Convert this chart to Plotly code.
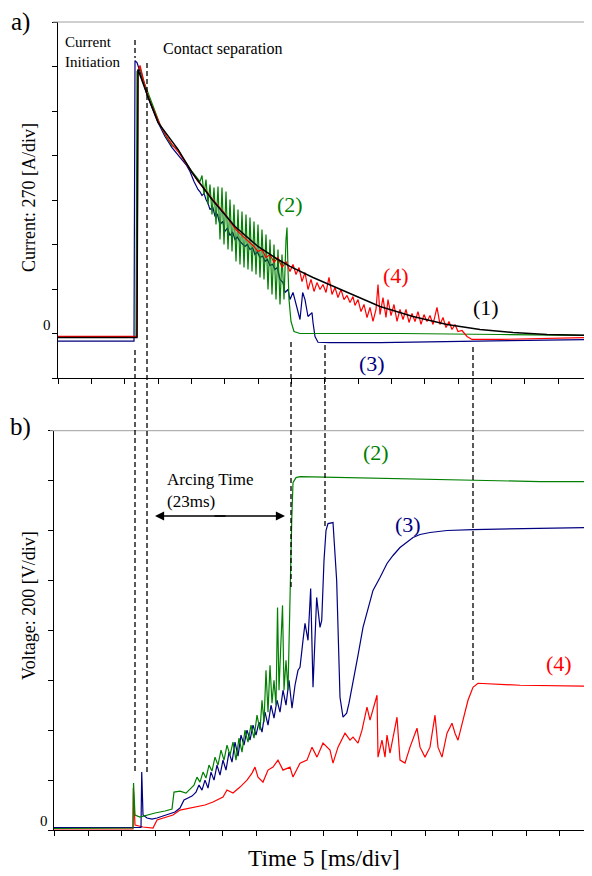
import plotly.graph_objects as go

# ---------------- data (time in ms, current in A, voltage in V) ----------------
time_ticks_ms = list(range(0, 81, 5))
current_ticks_A = list(range(-270, 1891, 270))
voltage_ticks_V = list(range(0, 1601, 200))

current_1 = [(0, -24), (11.85, -24), (12.0, 1602), (13.35, 1451), (15.0, 1281), (18.0, 1117),
             (20.1, 977), (23.1, 813), (26.55, 649), (30.0, 528), (33.0, 449), (34.8, 407),
             (38.25, 340), (43.35, 249), (48.3, 164), (53.25, 103), (58.35, 55), (63.3, 24),
             (68.25, 6), (73.35, -6), (80.1, -12)]

current_2 = [(0, -24), (11.7, -24), (11.85, 1590), (12.3, 1614), (12.75, 1541), (13.2, 1493),
             (13.8, 1420), (14.55, 1341), (15.3, 1268), (16.2, 1195), (17.1, 1141), (18.0, 1116),
             (19.05, 1044), (20.1, 983), (21.0, 934), (21.3, 922), (21.6, 959), (21.9, 843),
             (22.2, 934), (22.5, 783), (22.8, 904), (23.1, 722), (23.4, 886), (23.7, 661),
             (24.0, 892), (24.3, 570), (24.6, 886), (24.9, 540), (25.2, 861), (25.5, 510),
             (25.8, 813), (26.1, 497), (26.4, 783), (26.7, 437), (27.0, 752), (27.3, 419),
             (27.6, 740), (27.9, 400), (28.2, 722), (28.5, 388), (28.8, 704), (29.1, 376),
             (29.4, 679), (29.7, 358), (30.0, 661), (30.3, 340), (30.6, 631), (30.9, 328),
             (31.2, 601), (31.5, 267), (31.8, 570), (32.1, 237), (32.4, 540), (32.7, 206),
             (33.0, 510), (33.3, 176), (33.6, 479), (33.9, 206), (34.2, 570), (34.35, 643),
             (34.5, 388), (34.65, 206), (34.95, 73), (35.4, 12), (36.3, 0), (51.3, 0),
             (66.3, -6), (80.1, -12)]

current_3 = [(0, -46), (11.4, -46), (11.55, 1656), (11.85, 1644), (12.3, 1590), (12.75, 1529),
             (13.35, 1450), (14.1, 1371), (15.0, 1280), (16.05, 1195), (17.1, 1128), (18.3, 1068),
             (19.2, 1025), (19.8, 983), (20.4, 922), (21.0, 874), (21.3, 860), (21.6, 837),
             (21.9, 850), (22.2, 813), (22.5, 790), (22.8, 752), (23.2, 770), (23.55, 710),
             (23.9, 725), (24.3, 661), (24.7, 680), (25.05, 619), (25.4, 640), (25.8, 595),
             (26.2, 615), (26.55, 570), (26.9, 585), (27.3, 558), (27.7, 545), (28.05, 528),
             (28.4, 540), (28.8, 510), (29.2, 520), (29.55, 479), (29.9, 495), (30.3, 461),
             (30.7, 470), (31.05, 437), (31.4, 450), (31.8, 413), (32.2, 420), (32.55, 388),
             (32.9, 400), (33.3, 328), (33.75, 309), (34.05, 249), (34.5, 267), (34.8, 206),
             (35.25, 249), (35.85, 146), (36.3, 85), (36.7, 249), (37.05, 206), (37.5, 103),
             (38.1, 127), (38.25, 67), (38.55, -18), (39.0, -53), (40.8, -55), (48.3, -55),
             (57.3, -49), (66.3, -42), (80.1, -36)]

current_4 = [(0, -18), (11.85, -18), (12.0, 1590), (12.3, 1626), (12.75, 1553), (13.2, 1480),
             (13.8, 1408), (14.55, 1341), (15.3, 1268), (16.2, 1201), (17.1, 1147), (18.0, 1104),
             (19.05, 1037), (20.1, 977), (21.0, 922), (22.05, 874), (23.1, 819), (24.0, 777),
             (24.9, 734), (25.8, 680), (26.7, 631), (27.6, 595), (28.5, 564), (29.4, 528),
             (30.0, 497), (30.6, 510), (31.2, 461), (31.8, 479), (32.4, 431), (33.0, 461),
             (33.6, 400), (34.2, 437), (34.8, 376), (35.25, 419), (35.7, 358), (36.15, 400),
             (36.6, 315), (37.05, 370), (37.5, 267), (37.95, 328), (38.4, 255), (38.85, 309),
             (39.3, 267), (39.75, 297), (40.2, 249), (40.65, 340), (41.1, 237), (41.55, 279),
             (42.0, 218), (42.45, 267), (42.9, 206), (43.35, 231), (43.8, 188), (44.25, 224),
             (44.55, 170), (45.0, 206), (45.45, 133), (45.9, 176), (46.35, 97), (46.8, 158),
             (47.25, 73), (47.7, 146), (48.0, 297), (48.3, 115), (48.75, 218), (49.2, 97),
             (49.5, 206), (49.95, 109), (50.4, 176), (50.85, 73), (51.3, 146), (51.75, 85),
             (52.2, 146), (52.65, 67), (53.1, 121), (53.55, 73), (54.0, 133), (54.45, 55),
             (54.9, 115), (55.35, 73), (55.8, 109), (56.25, 55), (56.7, 133), (56.85, 158),
             (57.3, 55), (57.75, 97), (58.2, 36), (58.65, 73), (59.1, 24), (59.55, 55),
             (60.0, 12), (60.6, 18), (61.35, -18), (62.1, -36), (66.3, -36), (73.8, -30),
             (80.1, -24)]

voltage_2 = [(-0.6, 6), (11.25, 8), (11.33, 188), (11.55, 60), (12.3, 52), (13.35, 60), (14.55, 68),
             (16.05, 76), (17.1, 84), (17.4, 152), (18.3, 156), (19.2, 148), (19.8, 164), (20.4, 180),
             (20.85, 212), (21.3, 192), (21.75, 232), (22.2, 208), (22.65, 260), (23.1, 236),
             (23.55, 292), (24.0, 260), (24.45, 320), (24.9, 280), (25.35, 340), (25.8, 300),
             (26.25, 352), (26.7, 280), (27.15, 368), (27.6, 312), (28.05, 400), (28.5, 352),
             (28.95, 420), (29.4, 368), (29.85, 460), (30.3, 400), (30.6, 520), (30.9, 432),
             (31.2, 640), (31.5, 472), (31.8, 660), (32.1, 508), (32.4, 600), (32.7, 500),
             (32.93, 892), (33.15, 560), (33.45, 760), (33.68, 900), (33.9, 560), (34.2, 680),
             (34.5, 560), (34.8, 980), (35.06, 1240), (35.25, 1392), (35.7, 1412), (36.3, 1416),
             (43.8, 1412), (51.3, 1408), (62.25, 1400), (72.3, 1396), (80.1, 1396)]

voltage_3 = [(-0.6, 10), (12.45, 10), (12.56, 232), (12.75, 60), (13.35, 48), (14.1, 44), (14.85, 48),
             (15.75, 56), (16.8, 64), (17.55, 72), (18.3, 88), (18.9, 120), (19.5, 128), (20.1, 136),
             (20.7, 152), (21.15, 180), (21.6, 160), (22.05, 200), (22.5, 168), (22.95, 232),
             (23.4, 200), (23.85, 260), (24.3, 220), (24.75, 280), (25.2, 240), (25.65, 312),
             (26.1, 272), (26.55, 352), (27.0, 296), (27.45, 380), (27.9, 340), (28.35, 400),
             (28.8, 360), (29.25, 420), (29.7, 380), (30.15, 432), (30.6, 392), (31.05, 472),
             (31.5, 420), (31.95, 500), (32.4, 448), (32.85, 520), (33.3, 472), (33.75, 560),
             (34.2, 500), (34.65, 600), (35.1, 488), (35.55, 580), (36.0, 640), (36.3, 652),
             (36.75, 760), (37.05, 828), (37.5, 760), (37.9, 968), (38.25, 572), (38.8, 932),
             (39.3, 812), (39.56, 840), (39.9, 1080), (40.2, 1200), (40.5, 1228), (41.25, 1232),
             (41.8, 1000), (42.3, 532), (42.75, 452), (43.3, 468), (43.65, 508), (44.25, 600),
             (45.0, 700), (45.75, 812), (46.5, 892), (47.25, 960), (48.3, 1012), (49.35, 1068),
             (50.25, 1100), (51.3, 1132), (53.25, 1172), (54.3, 1184), (55.8, 1192), (58.35, 1200),
             (62.25, 1204), (70.8, 1208), (80.1, 1212)]

voltage_4 = [(-0.6, 4), (11.25, 4), (11.3, 168), (11.55, 20), (12.75, 12), (14.25, 8), (14.85, 40),
             (15.75, 48), (17.25, 60), (18.3, 80), (19.8, 88), (20.85, 92), (22.05, 100), (23.25, 112),
             (24.75, 132), (25.35, 160), (26.25, 148), (27.3, 172), (28.35, 200), (29.1, 228),
             (29.55, 252), (30.0, 212), (30.75, 192), (31.5, 240), (32.25, 252), (33.0, 280),
             (33.75, 240), (34.8, 252), (35.25, 212), (36.3, 268), (37.35, 280), (38.1, 332),
             (38.85, 292), (39.75, 348), (40.8, 320), (41.25, 268), (42.0, 332), (43.05, 388),
             (43.8, 360), (44.25, 372), (45.0, 348), (45.6, 400), (46.35, 492), (46.8, 440),
             (47.25, 480), (47.85, 540), (48.0, 292), (48.6, 360), (49.05, 292), (49.35, 380),
             (49.8, 308), (50.85, 452), (51.3, 280), (52.05, 268), (52.8, 332), (53.85, 408),
             (54.3, 332), (55.05, 292), (55.8, 332), (56.55, 460), (57.0, 332), (57.6, 292),
             (58.35, 388), (59.1, 428), (59.55, 388), (60.0, 360), (60.75, 440), (61.5, 520),
             (62.25, 572), (63.0, 588), (69.3, 580), (80.1, 576)]

# event times (ms) marked with dashed lines
t_initiation = 11.55
t_separation = 13.35
t_end_2 = 34.95
t_end_3 = 40.05
t_end_4 = 62.25

# ---------------- layout helpers ----------------
# the page body adds an 8px offset, so margins are expressed relative to it
OFF = 8
W, H = 592, 876
L, R, T, B = 46, 8, 14, 54
PW, PH = W - L - R, H - T - B


def px(x):
    return (x - OFF - L) / PW


def py(y):
    return (H - B - (y - OFF)) / PH


GREEN = "#008000"
RED = "#ff0000"
BLUE = "#000080"
BLACK = "#000000"
FONT = "Liberation Serif"
MS_PER_PX = 0.15

fig = go.Figure()


def add(pairs, color, xa, ya, width=1.2):
    t, v = zip(*pairs)
    fig.add_trace(go.Scatter(x=list(t), y=list(v), mode="lines",
                             line=dict(color=color, width=width),
                             xaxis=xa, yaxis=ya, showlegend=False, hoverinfo="skip"))


add(current_3, BLUE, "x", "y")
add(current_2, GREEN, "x", "y")
add(current_4, RED, "x", "y")
add(current_1, BLACK, "x", "y", 1.5)

add(voltage_4, RED, "x2", "y2")
add(voltage_3, BLUE, "x2", "y2")
add(voltage_2, GREEN, "x2", "y2")

xmax = (592 - 58) * MS_PER_PX
xmin2 = (54 - 58) * MS_PER_PX
bottom_ticks = [(54.3 + 33.7 * k - 58) * MS_PER_PX for k in range(17)]
bottom_ticks = [v for v in bottom_ticks if xmin2 <= v <= xmax]

axis_common = dict(showgrid=False, zeroline=False, showline=True, linecolor="black",
                   linewidth=1, ticks="outside", ticklen=5, tickwidth=1, tickcolor="black",
                   showticklabels=False)

fig.update_layout(
    width=W, height=H,
    margin=dict(l=L, r=R, t=T, b=B, pad=0),
    paper_bgcolor="white", plot_bgcolor="white",
    xaxis=dict(domain=[px(58), 1], range=[0, xmax], tickvals=time_ticks_ms, anchor="y", **axis_common),
    yaxis=dict(domain=[py(378), 1], range=[current_ticks_A[0], current_ticks_A[-1]],
               tickvals=current_ticks_A, anchor="x", **axis_common),
    xaxis2=dict(domain=[0, 1], range=[xmin2, xmax], tickvals=bottom_ticks, anchor="y2", **axis_common),
    yaxis2=dict(domain=[0, py(430.7)], range=[voltage_ticks_V[0], voltage_ticks_V[-1]],
                tickvals=voltage_ticks_V, anchor="x2", **axis_common),
)

shapes = []
gray = "#a0a0a0"
shapes.append(dict(type="line", xref="paper", yref="paper", x0=px(53), x1=px(592), y0=py(22), y1=py(22),
                   line=dict(color=gray, width=1)))
shapes.append(dict(type="line", xref="paper", yref="paper", x0=px(591), x1=px(591), y0=py(22), y1=py(378),
                   line=dict(color=gray, width=1)))
shapes.append(dict(type="line", xref="paper", yref="paper", x0=px(50), x1=px(592), y0=py(430.7), y1=py(430.7),
                   line=dict(color=gray, width=1)))

dash = dict(color="black", width=1.3, dash="5px,3px")
for t, y0, y1 in [(t_initiation, 40, 58), (t_initiation, 350, 772), (t_separation, 63, 775),
                  (t_end_2, 342, 588), (t_end_3, 345, 528), (t_end_4, 347, 683)]:
    shapes.append(dict(type="line", xref="x", yref="paper", x0=t, x1=t, y0=py(y0), y1=py(y1), line=dash))
fig.update_layout(shapes=shapes)

ann = []


def text(s, x, y, size, color="black", xanchor="center", yanchor="middle", angle=0, align="center"):
    ann.append(dict(text=s, x=px(x), y=py(y), xref="paper", yref="paper", showarrow=False,
                    xanchor=xanchor, yanchor=yanchor, textangle=angle, align=align,
                    font=dict(family=FONT, size=size, color=color)))


text("a)", 20, 22, 25)
text("b)", 20, 427, 25)
text("Current<br>Initiation", 63, 52, 15, xanchor="left", align="left")
text("Contact separation", 161, 49, 16, xanchor="left")
text("Current: 270 [A/div]", 29, 198, 18, angle=-90)
text("Voltage: 200 [V/div]", 29, 606, 18, angle=-90)
text("Time 5 [ms/div]", 324, 858, 23.5)
text("0", 47, 325, 15)
text("0", 44, 821, 15)
text("(2)", 290, 205, 22, GREEN)
text("(4)", 396, 276, 22, RED)
text("(1)", 486, 307, 22, BLACK)
text("(3)", 372, 363, 22, BLUE)
text("(2)", 376, 453, 22, GREEN)
text("(3)", 408, 524, 22, BLUE)
text("(4)", 559, 663, 22, RED)
text("Arcing Time<br>(23ms)", 165, 490, 17, xanchor="left", align="left")

for xh, off in [(155, 72), (285, -72)]:
    ann.append(dict(text="", x=px(xh), y=py(516), xref="paper", yref="paper", showarrow=True,
                    ax=off, ay=0, axref="pixel", ayref="pixel", arrowhead=2, arrowsize=1.3,
                    arrowwidth=1.4, arrowcolor="black", standoff=0))
fig.update_layout(annotations=ann)

fig.write_html("out.html")
